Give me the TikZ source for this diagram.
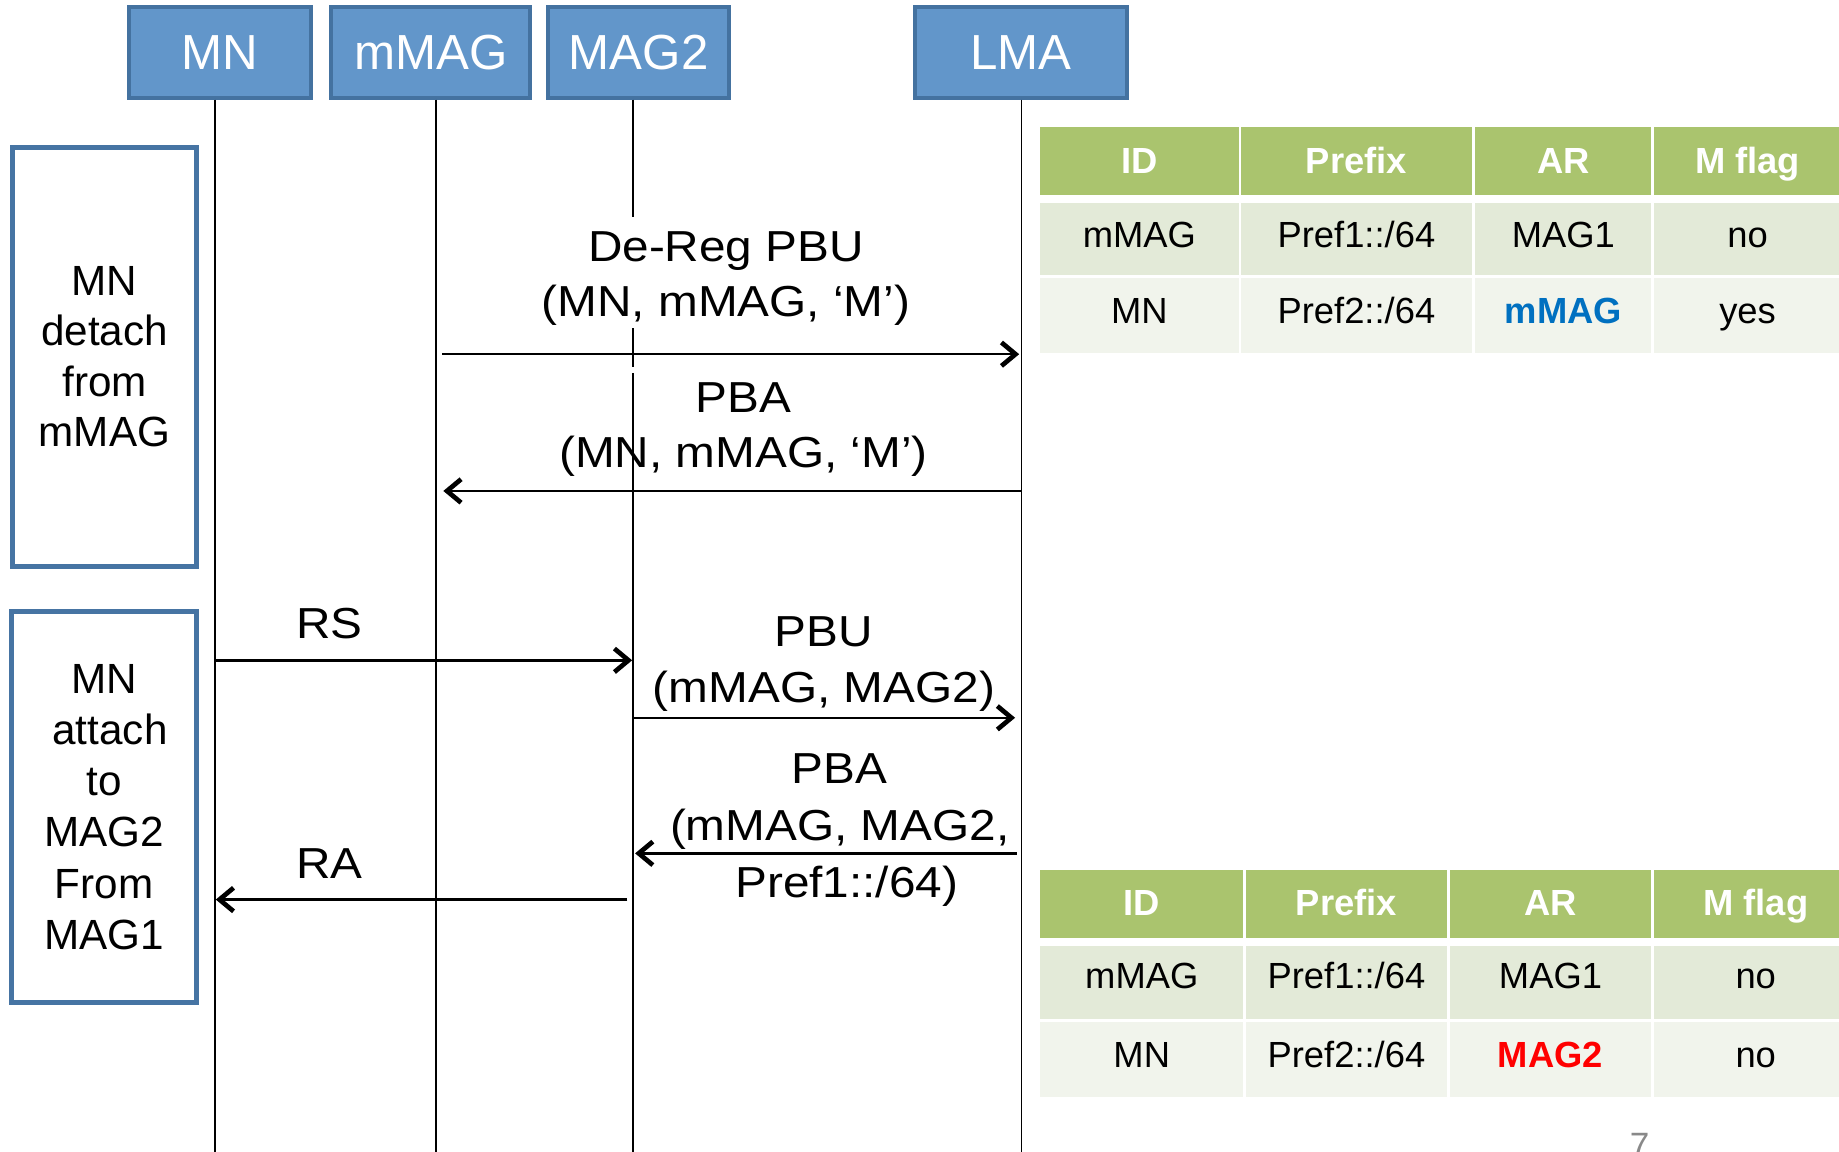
\documentclass[tikz,border=0pt]{standalone}
\usepackage{fontspec}
\setmainfont{Liberation Sans}
\newfontfamily\lblfont[FakeStretch=1.1]{Liberation Sans}
\usetikzlibrary{arrows.meta}
\definecolor{hdrfill}{RGB}{98,150,202}
\definecolor{hdrline}{RGB}{68,114,160}
\definecolor{boxline}{RGB}{70,116,163}
\definecolor{tgreen}{RGB}{170,196,110}
\definecolor{trowa}{RGB}{227,234,216}
\definecolor{trowb}{RGB}{241,244,236}
\definecolor{arblue}{RGB}{0,112,192}
\definecolor{arred}{RGB}{255,0,0}
\definecolor{pgnum}{RGB}{137,137,137}
\tikzset{
  hdr/.style={draw=hdrline, fill=hdrfill, line width=3.5pt, text=white,
    font=\fontsize{42}{50}\selectfont, inner sep=0pt, minimum height=77.2pt},
  phase/.style={draw=boxline, line width=4pt, fill=white, align=center, inner sep=0pt},
  life/.style={line width=1.6pt, black},
  msg/.style={line width=2.1pt, -{Straight Barb[length=12pt,width=20pt,line width=4pt]}},
  lbl/.style={align=center, inner sep=0pt},
  tt/.style={inner sep=0pt, text height=22pt, text depth=0pt, font=\fontsize{31}{37}\selectfont},
  th/.style={tt, text=white, font=\bfseries\fontsize{31}{37}\selectfont},
}
\begin{document}
\begin{tikzpicture}[x=1pt,y=-1pt]
\useasboundingbox (0,0) rectangle (1568,982);
\clip (0,0) rectangle (1568,982);

% lifeline positions
\coordinate (xMN) at (183,0);
\coordinate (xmMAG) at (372,0);
\coordinate (xMAG2) at (540,0);
\coordinate (xLMA) at (871,0);
\coordinate (bot) at (0,990);
\coordinate (m2a) at (540,185);
\coordinate (m2b) at (540,280);
\coordinate (m2c) at (540,313);
\coordinate (m2d) at (540,318);

% header boxes
\node[hdr, minimum width=155.5pt] (MN) at (187.5,44.65) {MN};
\node[hdr, minimum width=169.7pt] (mMAG) at (367.4,44.65) {mMAG};
\node[hdr, minimum width=154.6pt] (MAG2) at (544.6,44.65) {MAG2};
\node[hdr, minimum width=181pt] (LMA) at (870.7,44.65) {LMA};

% lifelines
\draw[life] (xMN |- MN.south) -- (xMN |- bot);
\draw[life] (xmMAG |- mMAG.south) -- (xmMAG |- bot);
\draw[life] (xMAG2 |- MAG2.south) -- (m2a);
\draw[life] (m2b) -- (m2c);
\draw[life] (m2d) -- (xMAG2 |- bot);
\draw[life] (xLMA |- LMA.south) -- (xLMA |- bot);

% phase boxes
\node[phase, minimum width=157.2pt, minimum height=357.4pt,
      font=\fontsize{36}{43}\selectfont] (ph1) at (89.1,304.3)
      {MN\\detach\\from\\mMAG};
\node[phase, minimum width=158pt, minimum height=333.7pt,
      font=\fontsize{36}{43.6}\selectfont] (ph2) at (88.8,688.1)
      {MN\\\hspace*{10pt}attach\\to\\MAG2\\From\\MAG1};

% message coordinates
\coordinate (a1s) at (377,302);   \coordinate (a1e) at (869,302);
\coordinate (a2s) at (871,418.6); \coordinate (a2e) at (378,418.6);
\coordinate (a3s) at (183,563);   \coordinate (a3e) at (539,563);
\coordinate (a4s) at (540,612);   \coordinate (a4e) at (865.5,612);
\coordinate (a5s) at (867,727.6); \coordinate (a5e) at (541.5,727.6);
\coordinate (a6s) at (535,767);   \coordinate (a6e) at (184,767);

% messages
\draw[msg] (a1s) -- (a1e);
\draw[msg] (a2s) -- (a2e);
\draw[msg] (a3s) -- (a3e);
\draw[msg] (a4s) -- (a4e);
\draw[msg] (a5s) -- (a5e);
\draw[msg] (a6s) -- (a6e);

% message labels
\node[lbl, font=\lblfont\fontsize{37}{47}\selectfont] (l1) at (619,237.4)
  {De-Reg PBU\\(MN, mMAG, ‘M’)};
\node[lbl, font=\lblfont\fontsize{37}{47}\selectfont] (l2) at (634,366.4)
  {PBA\\(MN, mMAG, ‘M’)};
\node[lbl, font=\lblfont\fontsize{37}{47}\selectfont] (l3) at (281,532) {RS};
\node[lbl, font=\lblfont\fontsize{37}{48}\selectfont] (l4) at (702.5,566)
  {PBU\\(mMAG, MAG2)};
\node[lbl, font=\lblfont\fontsize{37}{48.5}\selectfont] (l5) at (716,708)
  {PBA\\(mMAG, MAG2,\\\hspace*{12pt}Pref1::/64)};
\node[lbl, font=\lblfont\fontsize{37}{47}\selectfont] (l6) at (281,736.5) {RA};

% table 1 cells
\fill[tgreen] (887,108) rectangle (1056,166);
\fill[tgreen] (1058,108) rectangle (1255,166);
\fill[tgreen] (1258,108) rectangle (1408,166);
\fill[tgreen] (1410,108) rectangle (1575,166);
\fill[trowa] (887,173) rectangle (1056,234.5);
\fill[trowa] (1058,173) rectangle (1255,234.5);
\fill[trowa] (1258,173) rectangle (1408,234.5);
\fill[trowa] (1410,173) rectangle (1575,234.5);
\fill[trowb] (887,237) rectangle (1056,301);
\fill[trowb] (1058,237) rectangle (1255,301);
\fill[trowb] (1258,237) rectangle (1408,301);
\fill[trowb] (1410,237) rectangle (1575,301);

\node[th] (t1h1) at (971.5,137) {ID};
\node[th] (t1h2) at (1156.5,137) {Prefix};
\node[th] (t1h3) at (1333,137) {AR};
\node[th] (t1h4) at (1490,137) {M flag};
\node[tt] (t1a1) at (971.5,200) {mMAG};
\node[tt] (t1a2) at (1156.5,200) {Pref1::/64};
\node[tt] (t1a3) at (1333,200) {MAG1};
\node[tt] (t1a4) at (1490,200) {no};
\node[tt] (t1b1) at (971.5,265) {MN};
\node[tt] (t1b2) at (1156.5,265) {Pref2::/64};
\node[tt, text=arblue, font=\bfseries\fontsize{31}{37}\selectfont] (t1b3) at (1333,265) {mMAG};
\node[tt] (t1b4) at (1490,265) {yes};

% table 2 cells
\fill[tgreen] (887,742) rectangle (1060,800);
\fill[tgreen] (1062,742) rectangle (1234,800);
\fill[tgreen] (1236.5,742) rectangle (1408,800);
\fill[tgreen] (1410,742) rectangle (1590,800);
\fill[trowa] (887,807) rectangle (1060,869);
\fill[trowa] (1062,807) rectangle (1234,869);
\fill[trowa] (1236.5,807) rectangle (1408,869);
\fill[trowa] (1410,807) rectangle (1590,869);
\fill[trowb] (887,871) rectangle (1060,935);
\fill[trowb] (1062,871) rectangle (1234,935);
\fill[trowb] (1236.5,871) rectangle (1408,935);
\fill[trowb] (1410,871) rectangle (1590,935);

\node[th] (t2h1) at (973.5,770) {ID};
\node[th] (t2h2) at (1148,770) {Prefix};
\node[th] (t2h3) at (1322,770) {AR};
\node[th] (t2h4) at (1497,770) {M flag};
\node[tt] (t2a1) at (973.5,832) {mMAG};
\node[tt] (t2a2) at (1148,832) {Pref1::/64};
\node[tt] (t2a3) at (1322,832) {MAG1};
\node[tt] (t2a4) at (1497,832) {no};
\node[tt] (t2b1) at (973.5,899) {MN};
\node[tt] (t2b2) at (1148,899) {Pref2::/64};
\node[tt, text=arred, font=\bfseries\fontsize{31}{37}\selectfont] (t2b3) at (1322,899) {MAG2};
\node[tt] (t2b4) at (1497,899) {no};

% page number
\node[anchor=north, inner sep=0pt, text height=21.5pt, text depth=0pt,
      text=pgnum, font=\fontsize{30}{36}\selectfont] (pg) at (1398,965) {7};
\end{tikzpicture}
\end{document}
